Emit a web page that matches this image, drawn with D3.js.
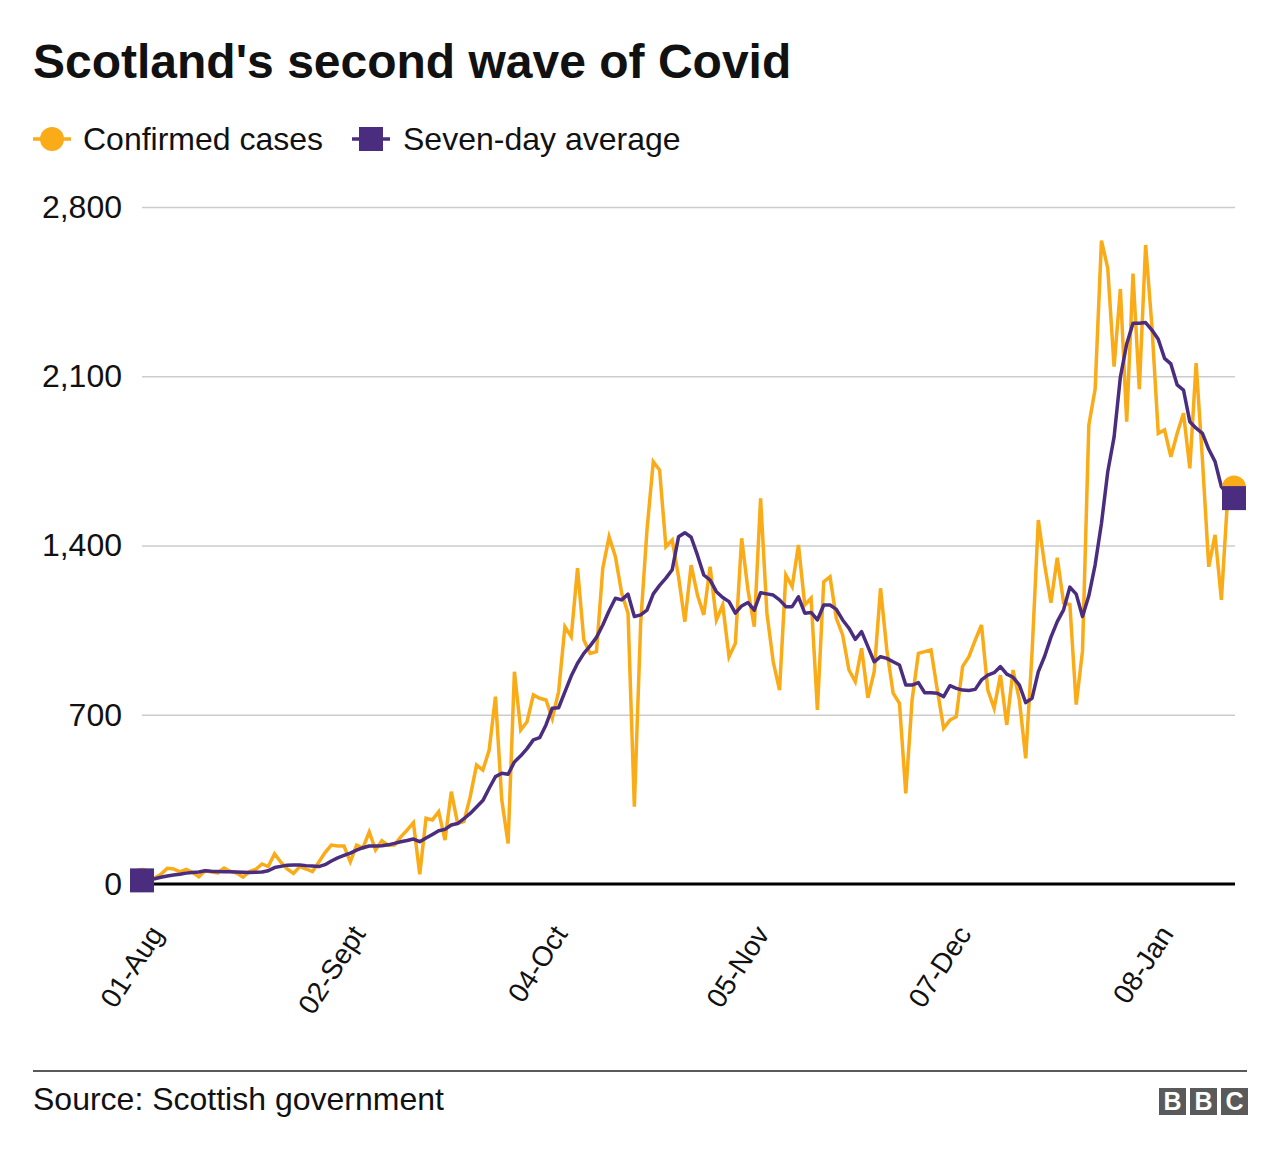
<!DOCTYPE html>
<html>
<head>
<meta charset="utf-8">
<script src="https://cdn.jsdelivr.net/npm/d3@7"></script>
<style>
  html, body { margin: 0; padding: 0; background: #fff; }
  svg { display: block; font-family: "Liberation Sans", Arial, Helvetica, sans-serif; }
</style>
</head>
<body>
<svg id="chart" width="1280" height="1158"></svg>
<script>
// ---- Data (daily values starting 01 Aug 2020) ----
const startDate = new Date(2020, 7, 1);

const confirmedCases = [
  18, 12, 25, 40, 65, 62, 50, 60, 48, 30,
  55, 50, 46, 66, 52, 45, 29, 51, 60, 83,
  72, 125, 90, 62, 44, 72, 62, 51, 90, 130,
  161, 157, 157, 92, 161, 149, 215, 141, 179, 160,
  161, 195, 223, 254, 40, 272, 265, 299, 182, 382,
  251, 258, 361, 492, 471, 554, 775, 347, 168, 878,
  637, 671, 782, 768, 761, 685, 795, 1064, 1023, 1306,
  1009, 954, 961, 1306, 1436, 1354, 1202, 1120, 320, 1078,
  1464, 1747, 1712, 1395, 1423, 1271, 1085, 1319, 1195, 1113,
  1312, 1092, 1154, 940, 995, 1430, 1216, 1064, 1595, 1120,
  919, 802, 1278, 1230, 1402, 1154, 1182, 720, 1250, 1271,
  1099, 1030, 885, 837, 975, 770, 878, 1223, 968, 789,
  747, 375, 761, 954, 961, 968, 802, 644, 678, 692,
  899, 940, 1009, 1071, 802, 727, 864, 658, 885, 761,
  520, 954, 1505, 1320, 1163, 1349, 1163, 1156, 742, 964,
  1898, 2047, 2661, 2547, 2140, 2461, 1912, 2525, 2047, 2643,
  2305, 1864, 1878, 1767, 1864, 1947, 1719, 2154, 1754, 1312,
  1444, 1175, 1602, 1640
];

const sevenDayAverage = [
  15, 18, 22, 28, 33, 37, 40, 45, 48, 50,
  55, 53, 52, 51, 51, 50, 49, 48, 49, 50,
  55, 68, 73, 78, 79, 79, 76, 74, 72, 80,
  95, 108, 118, 128, 140, 150, 157, 157, 158, 162,
  168, 175, 180, 186, 175, 190, 205, 220, 226, 244,
  250, 270, 292, 318, 345, 396, 444, 458, 454, 505,
  530, 560, 596, 605, 658, 727, 729, 795, 860, 913,
  954, 985, 1020, 1071, 1130, 1182, 1175, 1199, 1106, 1113,
  1133, 1200, 1235, 1265, 1300, 1436, 1453, 1434, 1360, 1278,
  1257, 1209, 1185, 1168, 1120, 1150, 1164, 1133, 1205, 1200,
  1195, 1175, 1147, 1147, 1188, 1120, 1123, 1092, 1154, 1154,
  1136, 1092, 1058, 1012, 1044, 982, 919, 940, 933, 919,
  906, 823, 823, 833, 791, 791, 789, 775, 820, 809,
  802, 800, 805, 844, 864, 874, 899, 868, 855, 823,
  750, 768, 878, 942, 1021, 1085, 1134, 1228, 1199, 1106,
  1192, 1320, 1491, 1705, 1848, 2097, 2233, 2319, 2319, 2322,
  2291, 2253, 2174, 2151, 2064, 2043, 1912, 1885, 1864, 1798,
  1747, 1643, 1610, 1596
];

const yTicks = [0, 700, 1400, 2100, 2800];
const xTickDates = [new Date(2020,7,1), new Date(2020,8,2), new Date(2020,9,4),
                    new Date(2020,10,5), new Date(2020,11,7), new Date(2021,0,8)];
const xTickLabels = ["01-Aug", "02-Sept", "04-Oct", "05-Nov", "07-Dec", "08-Jan"];

const seriesNames = ["Confirmed cases", "Seven-day average"];
const colors = { cases: "#FAAB18", avg: "#4B2D7F" };

// ---- Build ----
const dates = confirmedCases.map((_, i) => d3.timeDay.offset(startDate, i));
const svg = d3.select("#chart");

const x = d3.scaleTime().domain([dates[0], dates[dates.length - 1]]).range([142, 1234]);
const y = d3.scaleLinear().domain([0, 2800]).range([884, 207]);

// Title
svg.append("text").attr("x", 33).attr("y", 78)
  .attr("font-size", 48).attr("font-weight", "bold").attr("fill", "#111")
  .text("Scotland's second wave of Covid");

// Legend
const lg = svg.append("g");
lg.append("line").attr("x1", 33).attr("x2", 71).attr("y1", 139).attr("y2", 139)
  .attr("stroke", colors.cases).attr("stroke-width", 3.5);
lg.append("circle").attr("cx", 52).attr("cy", 139).attr("r", 12).attr("fill", colors.cases);
lg.append("text").attr("x", 83).attr("y", 150).attr("font-size", 32).attr("fill", "#111").text(seriesNames[0]);
lg.append("line").attr("x1", 352).attr("x2", 390).attr("y1", 139).attr("y2", 139)
  .attr("stroke", colors.avg).attr("stroke-width", 3.5);
lg.append("rect").attr("x", 359).attr("y", 127).attr("width", 24).attr("height", 24).attr("fill", colors.avg);
lg.append("text").attr("x", 403).attr("y", 150).attr("font-size", 32).attr("fill", "#111").text(seriesNames[1]);

// Y gridlines + labels
const yAxis = d3.axisLeft(y).tickValues(yTicks).tickSize(-(1235 - 142)).tickFormat(d3.format(","));
const gy = svg.append("g").attr("transform", "translate(142,0)").call(yAxis);
gy.select(".domain").remove();
gy.selectAll(".tick line").attr("stroke", "#cccccc").attr("stroke-width", 1.5);
gy.selectAll(".tick text").attr("x", -20).attr("font-size", 32).attr("fill", "#111")
  .attr("font-family", "Liberation Sans, Arial, sans-serif");

// Zero baseline
svg.append("line").attr("x1", 142).attr("x2", 1235).attr("y1", y(0)).attr("y2", y(0))
  .attr("stroke", "#000").attr("stroke-width", 3);

// X axis labels
const xAxis = d3.axisBottom(x).tickValues(xTickDates).tickSize(0)
  .tickFormat((d, i) => xTickLabels[i]);
const gx = svg.append("g").attr("transform", `translate(0,${y(0)})`).call(xAxis);
gx.select(".domain").remove();
gx.selectAll(".tick text")
  .attr("font-size", 28).attr("fill", "#111")
  .attr("font-family", "Liberation Sans, Arial, sans-serif")
  .attr("text-anchor", "end").attr("dy", 0).attr("y", 0)
  .attr("transform", "translate(22,50) rotate(-57)");

// Lines
const line = d3.line().x((d, i) => x(dates[i])).y(d => y(d));
svg.append("path").datum(confirmedCases).attr("d", line)
  .attr("fill", "none").attr("stroke", colors.cases).attr("stroke-width", 3.5).attr("stroke-linejoin", "miter");
svg.append("path").datum(sevenDayAverage).attr("d", line)
  .attr("fill", "none").attr("stroke", colors.avg).attr("stroke-width", 3.5).attr("stroke-linejoin", "round");

// End markers
const n = dates.length - 1;
svg.append("circle").attr("cx", x(dates[n])).attr("cy", y(confirmedCases[n])).attr("r", 12).attr("fill", colors.cases);
svg.append("circle").attr("cx", x(dates[0])).attr("cy", y(confirmedCases[0])).attr("r", 12).attr("fill", colors.cases);
[0, n].forEach(i => {
  svg.append("rect").attr("x", x(dates[i]) - 12).attr("y", y(sevenDayAverage[i]) - 12)
    .attr("width", 24).attr("height", 24).attr("fill", colors.avg);
});

// Footer
svg.append("line").attr("x1", 33).attr("x2", 1247).attr("y1", 1071).attr("y2", 1071)
  .attr("stroke", "#222").attr("stroke-width", 1.5);
svg.append("text").attr("x", 33).attr("y", 1110).attr("font-size", 32).attr("fill", "#111")
  .text("Source: Scottish government");
const logo = svg.append("g");
["B", "B", "C"].forEach((ch, i) => {
  const bx = 1159 + i * 31;
  logo.append("rect").attr("x", bx).attr("y", 1088).attr("width", 27).attr("height", 27).attr("fill", "#5a5a5a");
  logo.append("text").attr("x", bx + 13.5).attr("y", 1110).attr("text-anchor", "middle")
    .attr("font-size", 25).attr("font-weight", "bold").attr("fill", "#fff").text(ch);
});
</script>
</body>
</html>
